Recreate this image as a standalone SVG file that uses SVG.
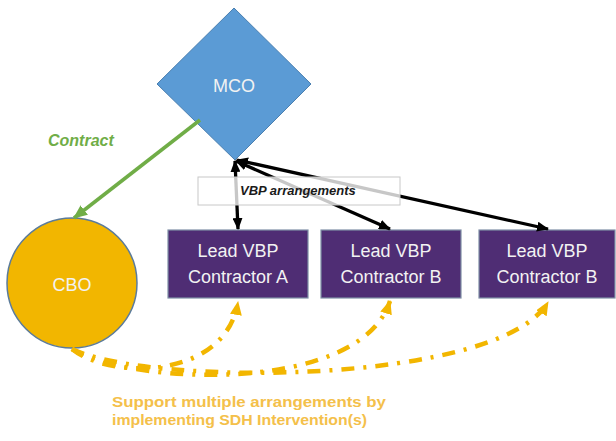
<svg xmlns="http://www.w3.org/2000/svg" width="616" height="441" viewBox="0 0 616 441">
<style>
.lbl{font-family:"Liberation Sans",Arial,sans-serif;fill:#f2f2f2;text-anchor:middle}
.box{fill:#4f2d74;stroke:#7f8fa6;stroke-width:1.2}
.blk{stroke:#000;stroke-width:3.3;fill:none;marker-start:url(#ab);marker-end:url(#ab)}
.ylw{stroke:#f2b600;stroke-width:4.5;fill:none;stroke-dasharray:13 9 3 9;marker-end:url(#ay)}
</style>
<defs>
<marker id="ab" viewBox="0 0 12 10" refX="11" refY="5" markerWidth="12" markerHeight="10" markerUnits="userSpaceOnUse" orient="auto-start-reverse">
<path d="M0,0 L12,5 L0,10 z" fill="#000"/>
</marker>
<marker id="ay" viewBox="0 0 14 12" refX="13" refY="6" markerWidth="14" markerHeight="12" markerUnits="userSpaceOnUse" orient="auto">
<path d="M0,0 L14,6 L0,12 z" fill="#f2b600"/>
</marker>
<marker id="ag" viewBox="0 0 14 12" refX="13" refY="6" markerWidth="14" markerHeight="12" markerUnits="userSpaceOnUse" orient="auto">
<path d="M0,0 L14,6 L0,12 z" fill="#70ad47"/>
</marker>
</defs>

<g id="mco">
<polygon points="234,8 311,84 235,160 157,84" fill="#5b9bd5" stroke="#4a7fb0" stroke-width="1"/>
<text class="lbl" x="234" y="92" font-size="18">MCO</text>
</g>

<g id="cbo">
<circle cx="72" cy="283" r="65" fill="#f2b600" stroke="#5b7b9a" stroke-width="1.5"/>
<text class="lbl" x="72" y="291" font-size="18">CBO</text>
</g>

<g id="boxA">
<rect class="box" x="168" y="230" width="140" height="68"/>
<text class="lbl" x="238" y="257" font-size="18">Lead VBP</text>
<text class="lbl" x="238" y="283" font-size="18">Contractor A</text>
</g>
<g id="boxB">
<rect class="box" x="321" y="230" width="140" height="68"/>
<text class="lbl" x="391" y="257" font-size="18">Lead VBP</text>
<text class="lbl" x="391" y="283" font-size="18">Contractor B</text>
</g>
<g id="boxC">
<rect class="box" x="479" y="230" width="136" height="68"/>
<text class="lbl" x="547" y="257" font-size="18">Lead VBP</text>
<text class="lbl" x="547" y="283" font-size="18">Contractor B</text>
</g>

<g id="connectors">
<line x1="200" y1="120" x2="74" y2="218" stroke="#70ad47" stroke-width="3.5" marker-end="url(#ag)"/>
<line class="blk" x1="235" y1="161" x2="238" y2="229"/>
<line class="blk" x1="236" y1="161" x2="390" y2="229"/>
<line class="blk" x1="237" y1="160" x2="548" y2="229"/>
<path class="ylw" d="M72,349 C110,380 225,380 238,302"/>
<path class="ylw" d="M72,349 C130,385 360,395 390,301"/>
<path class="ylw" d="M72,349 C150,387 500,385 548,302"/>
</g>

<g id="vbp">
<rect x="198" y="177" width="202" height="28" fill="#ffffff" fill-opacity="0.78" stroke="#c8c8c8" stroke-width="1"/>
<text x="240" y="195" font-family="Liberation Sans,Arial,sans-serif" font-size="13" font-weight="bold" font-style="italic" fill="#1a1a1a">VBP arrangements</text>
</g>

<text x="48" y="146" font-family="Liberation Sans,Arial,sans-serif" font-size="16" font-weight="bold" font-style="italic" fill="#70ad47">Contract</text>
<text x="112" y="407" font-family="Liberation Sans,Arial,sans-serif" font-size="15" font-weight="bold" fill="#f4c04a" textLength="274" lengthAdjust="spacingAndGlyphs">Support multiple arrangements by</text>
<text x="112" y="425" font-family="Liberation Sans,Arial,sans-serif" font-size="15" font-weight="bold" fill="#f4c04a" textLength="255" lengthAdjust="spacingAndGlyphs">implementing SDH Intervention(s)</text>
</svg>
